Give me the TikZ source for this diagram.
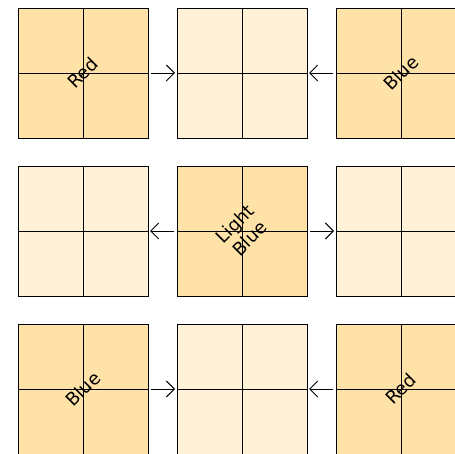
\documentclass[tikz,border=0pt]{standalone}
\usepackage{fontspec}
\setmainfont{DejaVu Sans}
\usetikzlibrary{arrows.meta}
\definecolor{darkfill}{HTML}{FFE2A8}
\definecolor{litefill}{HTML}{FFF2D8}
\begin{document}
\begin{tikzpicture}[x=1pt,y=-1pt,
  cell/.style={draw=black,line width=0.8pt,minimum size=130pt,inner sep=0pt,outer sep=0pt,anchor=north west},
  dcell/.style={cell,fill=darkfill},
  lcell/.style={cell,fill=litefill},
  divline/.style={draw=black,line width=0.8pt},
  lbl/.style={rotate=45,font=\fontsize{18}{21}\selectfont,align=center,inner sep=0pt},
  arr/.style={draw=black,line width=0.9pt,-{Straight Barb[length=8pt,width=16pt]},shorten <=3pt,shorten >=2pt}]
\useasboundingbox (0,0) rectangle (455,454);
\clip (0,0) rectangle (455,454);
% row 1
\node[dcell] (c11) at (18,8) {};
\node[lcell] (c12) at (177,8) {};
\node[dcell] (c13) at (336,8) {};
% row 2
\node[lcell] (c21) at (18,166) {};
\node[dcell] (c22) at (177,166) {};
\node[lcell] (c23) at (336,166) {};
% row 3
\node[dcell] (c31) at (18,324) {};
\node[lcell] (c32) at (177,324) {};
\node[dcell] (c33) at (336,324) {};
\foreach \c in {c11,c12,c13,c21,c22,c23,c31,c32,c33}{
  \draw[divline] (\c.north) -- (\c.south);
  \draw[divline] (\c.west) -- (\c.east);
}
\node[lbl] (t11) at (c11.center) {Red};
\node[lbl] (t13) at (c13.center) {Blue};
\node[lbl] (t22) at (c22.center) {Light\\Blue};
\node[lbl] (t31) at (c31.center) {Blue};
\node[lbl] (t33) at (c33.center) {Red};
\draw[arr] (c11.east) -- (c12.west);
\draw[arr] (c13.west) -- (c12.east);
\draw[arr] (c22.west) -- (c21.east);
\draw[arr] (c22.east) -- (c23.west);
\draw[arr] (c31.east) -- (c32.west);
\draw[arr] (c33.west) -- (c32.east);
\end{tikzpicture}
\end{document}
